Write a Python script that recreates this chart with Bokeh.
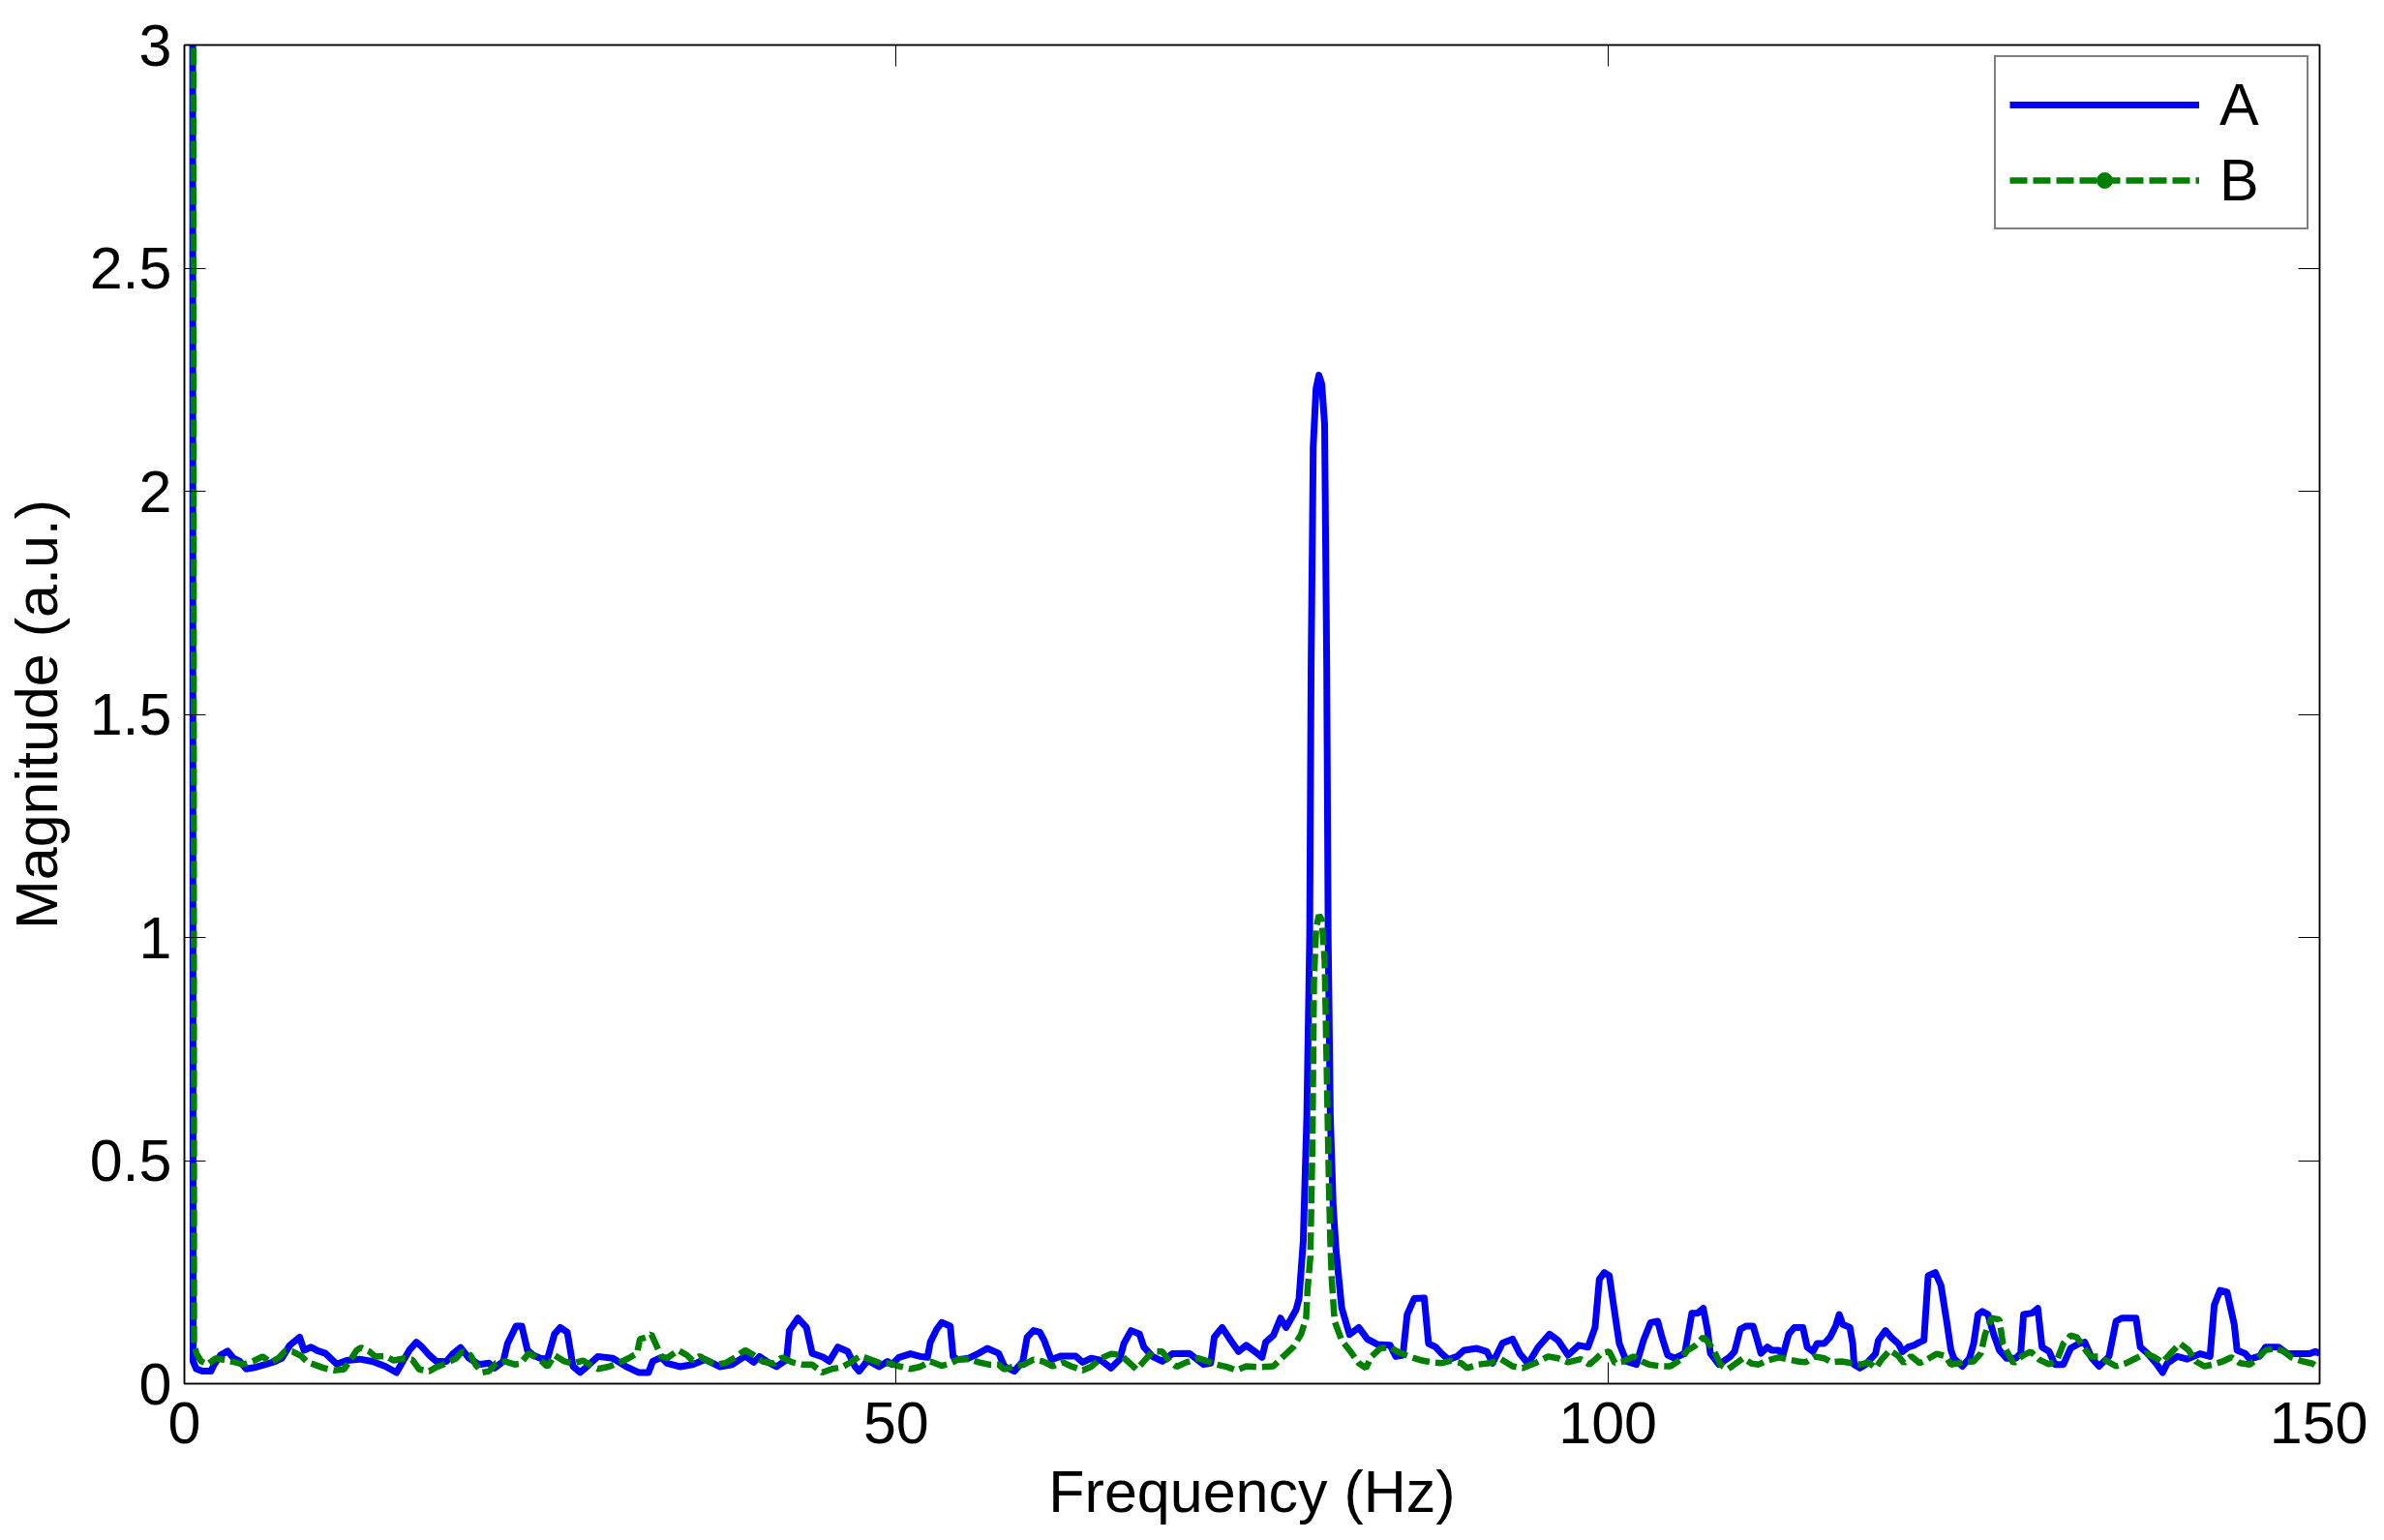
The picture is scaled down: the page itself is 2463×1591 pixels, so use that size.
from bokeh.plotting import figure
from bokeh.models import (LinearAxis, FixedTicker, Range1d, Legend, LegendItem,
                          NumeralTickFormatter, ColumnDataSource)
from bokeh.embed import file_html
from bokeh.resources import INLINE

# ---------------- data ----------------
freq_a = [0.5, 0.61, 0.84, 1.29, 1.86, 2.09, 2.54, 3.04, 3.45, 3.9, 4.35, 5.03, 5.7, 6.4, 6.85,
          7.4, 8.1, 8.4, 8.9, 9.34, 9.9, 10.7, 11.4, 12.3, 13.2, 14.1, 14.9, 15.35, 15.8, 16.3,
          16.7, 17.2, 17.7, 18.4, 18.9, 19.4, 20.0, 20.7, 21.4, 21.8, 22.4, 22.7, 23.3, 23.7,
          24.1, 24.5, 25.0, 25.5, 26.0, 26.4, 26.9, 27.3, 27.8, 28.3, 29.05, 30.1, 31.0, 31.9,
          32.6, 32.9, 33.5, 33.9, 34.8, 35.7, 36.6, 37.6, 38.5, 39.4, 40.0, 40.4, 41.0, 41.6,
          42.3, 42.5, 43.1, 43.7, 44.1, 44.9, 45.3, 45.9, 46.6, 47.1, 47.4, 48.0, 48.8, 49.4,
          49.7, 50.2, 51.0, 51.7, 52.2, 52.4, 52.85, 53.2, 53.8, 54.0, 54.3, 55.1, 55.8, 56.4,
          57.2, 57.6, 58.3, 58.9, 59.2, 59.65, 60.1, 60.4, 60.9, 61.6, 62.6, 63.1, 63.7, 64.4,
          65.1, 65.7, 66.0, 66.5, 67.1, 67.4, 68.0, 68.7, 69.4, 70.6, 71.6, 72.1, 72.35, 72.9,
          73.5, 74.05, 74.6, 75.2, 75.7, 75.96, 76.5, 77.0, 77.4, 78.1, 78.3, 78.6, 78.85,
          79.05, 79.15, 79.3, 79.5, 79.7, 79.9, 80.1, 80.25, 80.35, 80.5, 80.7, 80.9, 81.3,
          81.85, 82.5, 83.1, 83.8, 84.7, 85.1, 85.6, 85.9, 86.4, 87.1, 87.4, 87.9, 88.3, 88.8,
          89.4, 89.9, 90.8, 91.5, 91.9, 92.6, 93.3, 93.8, 94.4, 95.1, 95.9, 96.5, 97.2, 97.95,
          98.6, 99.1, 99.4, 99.75, 100.1, 100.4, 100.8, 101.3, 102.0, 102.5, 103.0, 103.5,
          103.8, 104.2, 104.7, 105.4, 105.9, 106.3, 106.7, 107.0, 107.2, 107.8, 108.6, 108.9,
          109.3, 109.7, 110.2, 110.5, 110.75, 111.2, 111.5, 112.0, 112.3, 112.7, 113.1, 113.7,
          114.0, 114.4, 114.7, 115.2, 115.6, 116.0, 116.25, 116.5, 117.0, 117.2, 117.3, 117.7,
          118.1, 118.8, 119.0, 119.5, 119.9, 120.4, 120.7, 121.1, 121.5, 121.9, 122.2, 122.5,
          123.0, 123.4, 123.8, 124.1, 124.3, 124.9, 125.4, 125.7, 126.0, 126.3, 126.7, 127.1,
          127.5, 128.0, 128.65, 129.0, 129.2, 129.8, 130.2, 130.5, 131.0, 131.4, 132.0, 132.5,
          133.1, 133.5, 134.0, 134.5, 135.2, 135.7, 136.1, 137.1, 137.4, 137.9, 138.5, 138.97,
          139.3, 140.0, 140.7, 141.6, 142.3, 142.6, 143.0, 143.5, 144.0, 144.2, 144.75, 145.1,
          145.8, 146.2, 147.1, 147.7, 148.4, 149.3, 149.7, 150.0]
mag_a = [12.0, 0.05, 0.033, 0.028, 0.028, 0.043, 0.064, 0.073, 0.057, 0.05, 0.033, 0.037, 0.043,
         0.05, 0.057, 0.086, 0.104, 0.075, 0.082, 0.074, 0.068, 0.044, 0.052, 0.055, 0.05, 0.039,
         0.025, 0.05, 0.075, 0.093, 0.082, 0.064, 0.05, 0.05, 0.068, 0.081, 0.057, 0.043, 0.046,
         0.035, 0.05, 0.09, 0.129, 0.129, 0.075, 0.064, 0.057, 0.055, 0.111, 0.126, 0.115, 0.039,
         0.025, 0.039, 0.061, 0.057, 0.039, 0.025, 0.025, 0.05, 0.059, 0.046, 0.038, 0.043,
         0.054, 0.038, 0.043, 0.062, 0.048, 0.061, 0.048, 0.038, 0.054, 0.119, 0.147, 0.126,
         0.068, 0.059, 0.05, 0.082, 0.072, 0.039, 0.028, 0.052, 0.038, 0.05, 0.043, 0.059,
         0.067, 0.061, 0.059, 0.093, 0.122, 0.137, 0.129, 0.061, 0.054, 0.057, 0.068, 0.079,
         0.068, 0.039, 0.028, 0.05, 0.104, 0.119, 0.115, 0.097, 0.054, 0.062, 0.062, 0.048,
         0.057, 0.052, 0.035, 0.054, 0.09, 0.119, 0.111, 0.082, 0.061, 0.05, 0.067, 0.068,
         0.043, 0.046, 0.104, 0.126, 0.097, 0.072, 0.086, 0.072, 0.059, 0.093, 0.108, 0.147,
         0.126, 0.166, 0.19, 0.32, 0.6, 1.0, 1.6, 2.1, 2.23, 2.26, 2.24, 2.15, 1.6, 1.0, 0.6,
         0.4, 0.3, 0.17, 0.11, 0.126, 0.1, 0.088, 0.086, 0.061, 0.064, 0.155, 0.191, 0.192,
         0.09, 0.082, 0.068, 0.054, 0.061, 0.075, 0.079, 0.072, 0.046, 0.091, 0.1, 0.068, 0.045,
         0.082, 0.111, 0.097, 0.064, 0.086, 0.082, 0.126, 0.234, 0.249, 0.242, 0.176, 0.09,
         0.05, 0.043, 0.097, 0.137, 0.14, 0.104, 0.064, 0.057, 0.068, 0.158, 0.158, 0.169,
         0.119, 0.068, 0.043, 0.061, 0.072, 0.122, 0.129, 0.129, 0.097, 0.068, 0.082, 0.075,
         0.075, 0.064, 0.111, 0.126, 0.126, 0.082, 0.072, 0.09, 0.09, 0.104, 0.129, 0.155,
         0.133, 0.126, 0.09, 0.043, 0.035, 0.043, 0.067, 0.097, 0.119, 0.104, 0.09, 0.072,
         0.082, 0.086, 0.093, 0.097, 0.242, 0.249, 0.22, 0.14, 0.075, 0.057, 0.039, 0.057, 0.09,
         0.155, 0.162, 0.155, 0.111, 0.075, 0.057, 0.057, 0.068, 0.155, 0.158, 0.169, 0.082,
         0.072, 0.043, 0.043, 0.079, 0.09, 0.093, 0.057, 0.039, 0.061, 0.14, 0.147, 0.147,
         0.082, 0.068, 0.046, 0.025, 0.046, 0.061, 0.055, 0.067, 0.061, 0.176, 0.209, 0.205,
         0.133, 0.075, 0.068, 0.055, 0.062, 0.082, 0.082, 0.068, 0.067, 0.067, 0.072, 0.068]

freq_b = [0.5, 0.68, 0.84, 1.18, 1.63, 2.2, 3.0, 3.56, 4.1, 4.8, 5.5, 6.05, 6.6, 7.1, 7.6, 8.2,
          8.66, 9.1, 9.8, 10.5, 11.2, 11.6, 12.1, 12.4, 13.0, 13.4, 14.1, 14.7, 15.5, 16.0,
          16.5, 17.2, 17.7, 18.4, 19.1, 19.5, 20.1, 20.45, 20.9, 21.4, 21.9, 22.5, 23.2, 23.6,
          24.2, 24.6, 25.1, 25.5, 26.0, 26.7, 27.3, 28.0, 28.6, 29.05, 29.8, 30.6, 31.2, 31.8,
          32.0, 32.45, 32.8, 33.1, 33.5, 33.9, 34.7, 35.3, 35.7, 36.2, 36.8, 37.4, 38.0, 38.7,
          39.4, 40.0, 40.6, 41.4, 42.0, 42.7, 43.4, 44.1, 44.8, 45.5, 46.2, 46.7, 47.5, 48.2,
          48.9, 49.6, 50.1, 51.0, 51.7, 52.4, 53.2, 53.8, 54.4, 55.1, 55.8, 56.5, 57.2, 57.6,
          58.3, 59.0, 59.65, 60.3, 61.0, 61.7, 62.3, 63.1, 63.7, 64.4, 65.1, 65.8, 66.2, 66.9,
          67.4, 68.0, 68.7, 69.2, 69.7, 70.4, 71.2, 71.9, 72.5, 73.3, 73.9, 74.6, 75.6, 76.5,
          77.2, 77.9, 78.45, 78.8, 78.9, 79.1, 79.25, 79.35, 79.5, 79.7, 79.9, 80.1, 80.25,
          80.4, 80.5, 80.6, 80.8, 81.3, 81.85, 82.5, 83.0, 83.4, 84.0, 84.7, 85.2, 85.8, 86.4,
          86.95, 87.6, 88.3, 89.0, 89.7, 90.1, 90.9, 91.7, 92.5, 93.3, 94.0, 94.9, 95.8, 96.5,
          97.2, 98.1, 98.7, 99.1, 99.6, 100.1, 100.5, 101.1, 101.8, 102.4, 102.9, 103.7, 104.4,
          105.1, 105.6, 106.1, 106.7, 107.1, 107.6, 107.9, 108.4, 108.9, 109.5, 110.1, 110.6,
          111.2, 112.0, 112.7, 113.35, 113.9, 114.5, 115.2, 115.7, 116.4, 117.1, 117.8, 118.3,
          118.8, 119.25, 119.8, 120.4, 120.8, 121.3, 121.9, 122.4, 123.1, 123.7, 124.1, 125.0,
          125.7, 126.2, 126.5, 126.95, 127.5, 127.75, 128.1, 128.5, 129.1, 129.7, 130.3, 131.0,
          131.6, 132.0, 132.5, 132.95, 133.4, 133.9, 134.5, 135.1, 135.7, 136.4, 137.1, 137.8,
          138.4, 138.97, 139.5, 140.2, 140.8, 141.3, 141.9, 142.5, 143.2, 143.8, 144.4, 145.1,
          145.7, 146.2, 146.9, 147.5, 148.0, 148.8, 149.5, 149.96]
mag_b = [12.0, 0.09, 0.068, 0.05, 0.043, 0.057, 0.052, 0.048, 0.043, 0.05, 0.061, 0.048, 0.057,
         0.074, 0.072, 0.062, 0.048, 0.043, 0.035, 0.03, 0.032, 0.05, 0.075, 0.081, 0.072, 0.061,
         0.062, 0.052, 0.057, 0.054, 0.032, 0.028, 0.037, 0.046, 0.057, 0.072, 0.064, 0.043,
         0.025, 0.028, 0.046, 0.05, 0.043, 0.045, 0.068, 0.061, 0.05, 0.038, 0.064, 0.05, 0.045,
         0.052, 0.04, 0.033, 0.038, 0.048, 0.057, 0.068, 0.1, 0.104, 0.111, 0.09, 0.061, 0.057,
         0.075, 0.064, 0.052, 0.062, 0.05, 0.043, 0.046, 0.059, 0.075, 0.064, 0.05, 0.045, 0.059,
         0.048, 0.043, 0.043, 0.025, 0.033, 0.037, 0.046, 0.062, 0.054, 0.046, 0.045, 0.04,
         0.033, 0.038, 0.05, 0.04, 0.045, 0.055, 0.055, 0.048, 0.043, 0.043, 0.032, 0.039,
         0.043, 0.054, 0.05, 0.039, 0.048, 0.039, 0.03, 0.038, 0.057, 0.067, 0.064, 0.052, 0.032,
         0.05, 0.072, 0.072, 0.05, 0.038, 0.048, 0.057, 0.05, 0.043, 0.037, 0.03, 0.039, 0.037,
         0.039, 0.061, 0.082, 0.111, 0.147, 0.21, 0.285, 0.55, 0.9, 1.02, 1.05, 1.04, 0.95, 0.7,
         0.45, 0.32, 0.235, 0.14, 0.097, 0.075, 0.046, 0.035, 0.061, 0.079, 0.082, 0.072, 0.064,
         0.057, 0.052, 0.048, 0.046, 0.052, 0.046, 0.035, 0.043, 0.046, 0.055, 0.039, 0.035,
         0.046, 0.061, 0.057, 0.048, 0.055, 0.043, 0.054, 0.069, 0.072, 0.046, 0.05, 0.061, 0.05,
         0.043, 0.039, 0.039, 0.054, 0.075, 0.084, 0.104, 0.091, 0.064, 0.043, 0.032, 0.043,
         0.057, 0.045, 0.043, 0.052, 0.059, 0.054, 0.05, 0.048, 0.061, 0.057, 0.048, 0.05, 0.046,
         0.043, 0.048, 0.035, 0.055, 0.075, 0.062, 0.046, 0.062, 0.046, 0.054, 0.067, 0.062,
         0.043, 0.048, 0.05, 0.068, 0.111, 0.147, 0.144, 0.09, 0.068, 0.046, 0.062, 0.072, 0.054,
         0.043, 0.057, 0.09, 0.108, 0.104, 0.082, 0.061, 0.061, 0.05, 0.039, 0.046, 0.057, 0.068,
         0.059, 0.048, 0.067, 0.09, 0.075, 0.05, 0.039, 0.043, 0.05, 0.059, 0.046, 0.043, 0.059,
         0.075, 0.079, 0.072, 0.059, 0.05, 0.045, 0.035]

x_ticks = [0, 50, 100, 150]
y_ticks = [0, 0.5, 1, 1.5, 2, 2.5, 3]
series_labels = ["A", "B"]
x_label = "Frequency (Hz)"
y_label = "Magnitude (a.u.)"

FONT = "Liberation Sans"
FS = "61px"

p = figure(frame_width=2206, frame_height=1383,
           x_range=Range1d(0, 150), y_range=Range1d(0, 3),
           output_backend="svg", toolbar_location=None,
           min_border_left=183, min_border_top=46, min_border_right=50, min_border_bottom=140,
           background_fill_color="white", border_fill_color="white")

p.xgrid.visible = False
p.ygrid.visible = False
p.outline_line_color = "black"
p.outline_line_width = 1.5


def style_axis(ax, ticks, show_labels):
    ax.ticker = FixedTicker(ticks=ticks)
    ax.major_tick_in = 22
    ax.major_tick_out = 0
    ax.minor_tick_line_color = None
    ax.major_tick_line_color = "black"
    ax.major_tick_line_width = 1
    ax.axis_line_color = "black"
    ax.axis_line_width = 1.5
    if show_labels:
        ax.major_label_text_font = FONT
        ax.major_label_text_font_size = FS
        ax.major_label_text_color = "black"
        ax.major_label_standoff = 13
        ax.axis_label_text_font = FONT
        ax.axis_label_text_font_size = FS
        ax.axis_label_text_font_style = "normal"
        ax.axis_label_text_color = "black"
        ax.formatter = NumeralTickFormatter(format="0.[0]")
    else:
        ax.major_label_text_color = None
        ax.major_label_text_alpha = 0
        ax.major_label_text_font_size = "10px"
        ax.major_label_standoff = 0


style_axis(p.xaxis[0], x_ticks, True)
style_axis(p.yaxis[0], y_ticks, True)
p.xaxis[0].major_label_standoff = 19
p.xaxis[0].axis_label = x_label
p.xaxis[0].axis_label_standoff = 13
p.yaxis[0].axis_label = y_label
p.yaxis[0].axis_label_standoff = 18

right_ax = LinearAxis()
style_axis(right_ax, y_ticks, False)
p.add_layout(right_ax, "right")
top_ax = LinearAxis()
style_axis(top_ax, x_ticks, False)
p.add_layout(top_ax, "above")

src_a = ColumnDataSource(data=dict(f=freq_a, m=mag_a))
src_b = ColumnDataSource(data=dict(f=freq_b, m=mag_b))

ra = p.line("f", "m", source=src_a, line_color="#0000FF", line_width=7, line_join="round")
rb = p.line("f", "m", source=src_b, line_color="#008000", line_width=6.5, line_dash="18 6")
mb = p.scatter("f", "m", source=src_b, marker="circle", size=16, fill_color="#008000",
               line_color="#008000", visible=False)

legend = Legend(items=[LegendItem(label=series_labels[0], renderers=[ra]),
                       LegendItem(label=series_labels[1], renderers=[rb, mb])],
                location=(1870, 1192), orientation="vertical",
                padding=14, spacing=8, margin=0,
                glyph_width=196, glyph_height=40, label_width=76, label_height=65,
                label_standoff=21,
                label_text_font=FONT, label_text_font_size=FS, label_text_color="black",
                border_line_color="black", border_line_width=2,
                background_fill_color="white", background_fill_alpha=1)
p.add_layout(legend)

open("out.html", "w").write(file_html(p, INLINE))
